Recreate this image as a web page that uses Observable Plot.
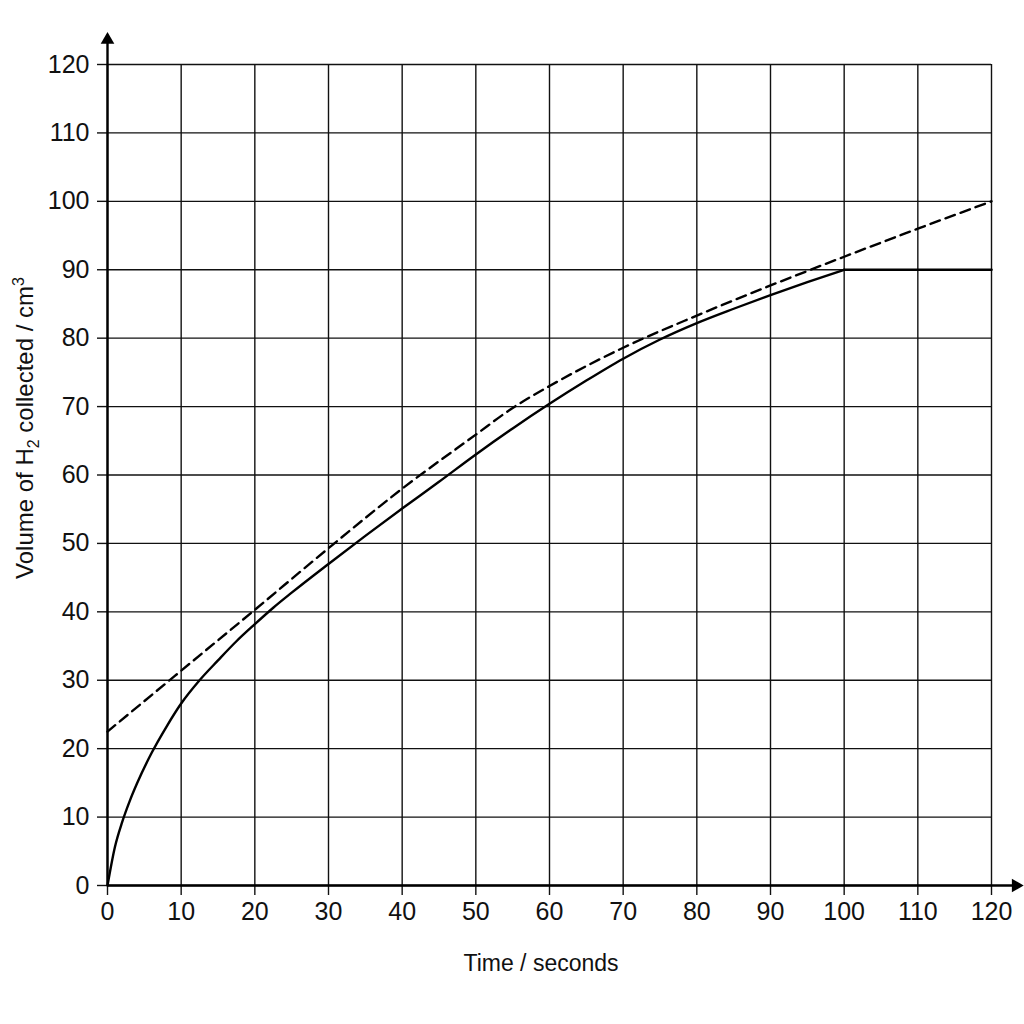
<!DOCTYPE html>
<html><head><meta charset="utf-8">
<script src="https://cdn.jsdelivr.net/npm/d3@7"></script>
<script src="https://cdn.jsdelivr.net/npm/@observablehq/plot@0.6"></script>
<style>body{margin:0;background:#fff} svg{display:block}</style>
</head><body><div id="chart"></div>
<script>
const xTicks = [0,10,20,30,40,50,60,70,80,90,100,110,120];
const yTicks = [0,10,20,30,40,50,60,70,80,90,100,110,120];

// Solid curve (rising part) and plateau
const timeSolid = [0,1,2,3,4,6,8,10,12.5,15,17.5,20,22.5,25,30,35,40,45,50,55,60,65,70,75,80,85,90,95,100];
const volSolid  = [0,5.6,9.3,12.3,14.9,19.4,23.2,26.6,30,32.9,35.7,38.2,40.6,42.8,47,51.1,55.1,59,63,66.8,70.4,73.8,77,79.8,82.2,84.3,86.3,88.2,90];
const timePlateau = [100,120];
const volPlateau  = [90,90];

// Dashed curve
const timeDashed = [0,10,20,30,40,50,55,60,70,80,90,100,110,120];
const volDashed  = [22.5,31.4,40.3,49.3,58,65.9,69.8,73,78.6,83.3,87.7,91.9,96,100];

// Axis arrow ends (data units)
const axisEndX = [123.3];
const axisEndY = [123.6];

const solid = timeSolid.map((t,i)=>({t, v: volSolid[i]}));
const plateau = timePlateau.map((t,i)=>({t, v: volPlateau[i]}));
const dashed = timeDashed.map((t,i)=>({t, v: volDashed[i]}));

const chart = Plot.plot({
  width: 1024, height: 1024,
  marginLeft: 107, marginRight: 33, marginTop: 64, marginBottom: 139,
  style: {fontFamily: "'Liberation Sans', Arial, sans-serif", fontSize: "25px", color: "#111", background: "#fff"},
  x: {domain: [0,120], label: null},
  y: {domain: [0,120], label: null},
  marks: [
    Plot.gridX(xTicks, {stroke: "#111", strokeOpacity: 1, strokeWidth: 1.4}),
    Plot.gridY(yTicks, {stroke: "#111", strokeOpacity: 1, strokeWidth: 1.4}),
    Plot.axisX(xTicks, {tickSize: 10, tickPadding: 7, stroke: "#111", strokeWidth: 1.4, label: null}),
    Plot.axisY(yTicks, {tickSize: 10, tickPadding: 8, stroke: "#111", strokeWidth: 1.4, label: null}),
    Plot.link(axisEndX, {x1: 0, y1: 0, x2: d => d, y2: 0, stroke: "#000", strokeWidth: 2.4}),
    Plot.link(axisEndY, {x1: 0, y1: 0, x2: 0, y2: d => d, stroke: "#000", strokeWidth: 2.4}),
    Plot.dot(axisEndX, {x: d => d, y: 0, symbol: "triangle2", r: 6.5, fill: "#000", stroke: null, rotate: 90}),
    Plot.dot(axisEndY, {x: 0, y: d => d, symbol: "triangle2", r: 6.5, fill: "#000", stroke: null}),
    Plot.line(solid, {x: "t", y: "v", stroke: "#000", strokeWidth: 2.4, curve: "monotone-x"}),
    Plot.line(plateau, {x: "t", y: "v", stroke: "#000", strokeWidth: 2.6}),
    Plot.line(dashed, {x: "t", y: "v", stroke: "#000", strokeWidth: 2.4, strokeDasharray: "10,6", curve: "monotone-x"})
  ]
});

const svg = d3.select(chart);
const F = "'Liberation Sans', Arial, sans-serif";
svg.append("text")
  .attr("x", 541).attr("y", 971)
  .attr("text-anchor", "middle")
  .attr("font-family", F).attr("font-size", 23).attr("fill", "#111")
  .text("Time / seconds");

const yl = svg.append("text")
  .attr("transform", "translate(33,428) rotate(-90)")
  .attr("text-anchor", "middle")
  .attr("font-family", F).attr("font-size", 24).attr("fill", "#111");
yl.append("tspan").text("Volume of H");
yl.append("tspan").attr("dy", 6).attr("font-size", 16).text("2");
yl.append("tspan").attr("dy", -6).text(" collected / cm");
yl.append("tspan").attr("dy", -9).attr("font-size", 16).text("3");

document.getElementById("chart").appendChild(chart);
</script>
</body></html>
